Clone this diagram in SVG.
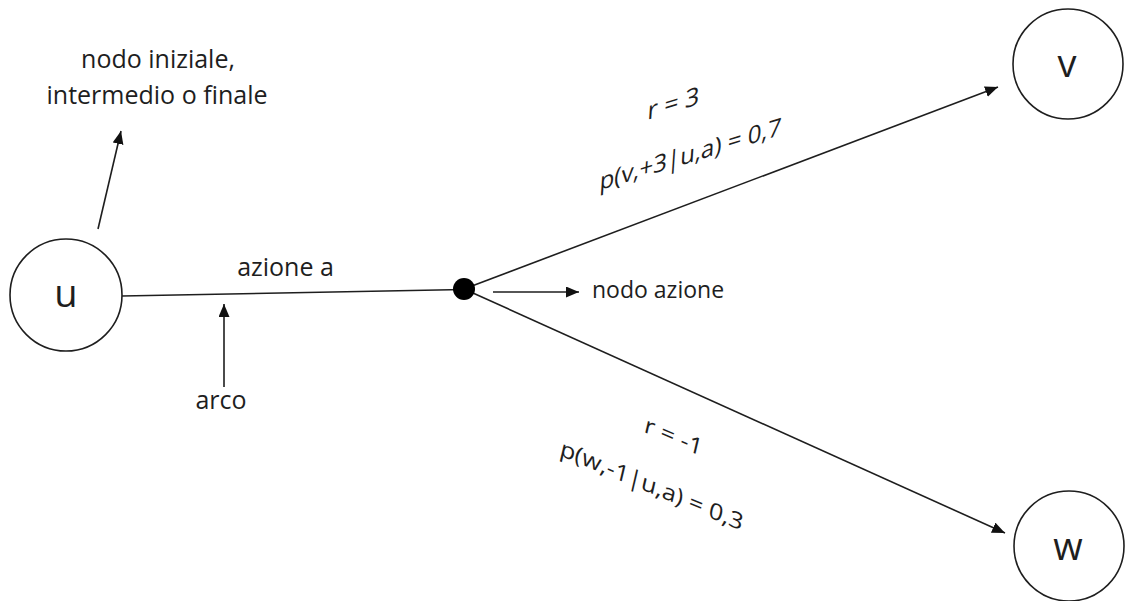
<svg xmlns="http://www.w3.org/2000/svg" width="1128" height="601" viewBox="0 0 1128 601">
<style>
  .lbl { font-family: "Open Sans", "Liberation Sans", sans-serif; font-size: 25px; fill: #1e1e1e; }
  .big { font-family: "Open Sans", "Liberation Sans", sans-serif; font-size: 38px; fill: #1e1e1e; text-anchor: middle; }
  .node { fill: #ffffff; stroke: #1e1e1e; stroke-width: 1.6; }
  .edge { fill: none; stroke: #1e1e1e; stroke-width: 1.6; }
</style>
<defs>
  <marker id="arr" markerUnits="userSpaceOnUse" markerWidth="14" markerHeight="12" refX="13" refY="5.5" orient="auto">
    <path d="M0,0 L13,5.5 L0,11 z" fill="#111"/>
  </marker>
</defs>
<rect width="1128" height="601" fill="#ffffff"/>

<g id="connectors">
  <line class="edge" x1="122" y1="296" x2="464" y2="289.5"/>
  <line class="edge" x1="464" y1="289" x2="998" y2="87" marker-end="url(#arr)"/>
  <line class="edge" x1="464" y1="289" x2="1005" y2="533" marker-end="url(#arr)"/>
  <line class="edge" x1="493" y1="292" x2="579" y2="292" marker-end="url(#arr)"/>
  <line class="edge" x1="98" y1="229" x2="121" y2="131" marker-end="url(#arr)"/>
  <line class="edge" x1="224" y1="387" x2="224" y2="304" marker-end="url(#arr)"/>
</g>

<g id="node-u">
  <circle class="node" cx="66" cy="295" r="56"/>
  <text class="big" x="66" y="307">u</text>
</g>
<g id="node-v">
  <circle class="node" cx="1068" cy="64" r="55"/>
  <text class="big" x="1067" y="77">v</text>
</g>
<g id="node-w">
  <circle class="node" cx="1069" cy="546" r="55"/>
  <text class="big" x="1068" y="560">w</text>
</g>
<g id="node-action">
  <circle cx="464" cy="289" r="11" fill="#000"/>
</g>

<g id="labels">
  <text class="lbl" x="158" y="68" text-anchor="middle">nodo iniziale,</text>
  <text class="lbl" x="157" y="104" text-anchor="middle">intermedio o finale</text>
  <text class="lbl" x="285.5" y="276" text-anchor="middle">azione a</text>
  <text class="lbl" x="221" y="409" text-anchor="middle">arco</text>
  <text class="lbl" x="592" y="298" style="font-size:23px">nodo azione</text>
  <g transform="translate(673,112) skewY(-17) skewX(-4)">
    <text class="lbl" x="0" y="0" text-anchor="middle">r = 3</text>
  </g>
  <g transform="translate(690,162.5) skewY(-17) skewX(-4)">
    <text class="lbl" x="0" y="0" text-anchor="middle" style="font-size:24px">p(v,+3|u,a) = 0,7</text>
  </g>
  <g transform="translate(672,444) skewY(23) skewX(-12)">
    <text class="lbl" x="0" y="0" text-anchor="middle" style="font-size:24px">r = -1</text>
  </g>
  <g transform="translate(650,493) skewY(22.5) skewX(-12)">
    <text class="lbl" x="0" y="0" text-anchor="middle" style="font-size:24px">p(w,-1|u,a) = 0,3</text>
  </g>
</g>
</svg>
